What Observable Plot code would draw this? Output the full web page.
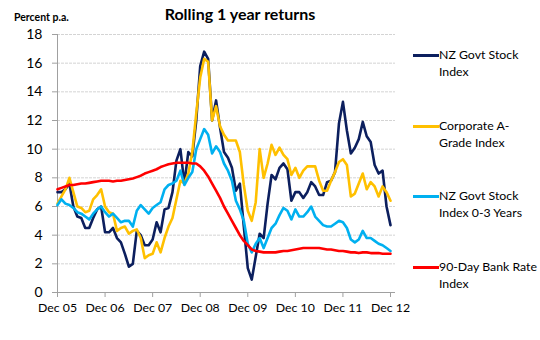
<!DOCTYPE html>
<html><head><meta charset="utf-8">
<script src="https://cdn.jsdelivr.net/npm/d3@7"></script>
<script src="https://cdn.jsdelivr.net/npm/@observablehq/plot@0.6"></script>
<style>
body{margin:0;background:#fff;font-family:Lato,"Open Sans",sans-serif;}
#wrap{position:relative;width:540px;height:340px;overflow:hidden;background:#fff}
#wrap svg{position:absolute;left:0;top:0}
.t{position:absolute;white-space:nowrap;color:#000;line-height:17px}
.title{font-weight:bold;font-size:16px;left:0;width:480px;text-align:center;top:5px}
.unit{font-weight:bold;font-size:10.5px;left:14px;top:9px}
.leg{font-size:12.3px;left:439px}
.sw{position:absolute;left:413px;width:26px;height:3px}
</style></head><body><div id="wrap"></div>
<script>
const tickLabels = ["Dec 05","Dec 06","Dec 07","Dec 08","Dec 09","Dec 10","Dec 11","Dec 12"];
const yTicks = [0,2,4,6,8,10,12,14,16,18];
const names = ["NZ Govt Stock Index","Corporate A-Grade Index","NZ Govt Stock Index 0-3 Years","90-Day Bank Rate Index"];
const legendLines = [["NZ Govt Stock","Index"],["Corporate A-","Grade Index"],["NZ Govt Stock","Index 0-3 Years"],["90-Day Bank Rate","Index"]];
const colors = ["#0c1f5e","#ffc000","#00b0f0","#ff0000"];

// monthly values, Dec 05 .. Dec 12
const govt = [7.0,7.0,7.2,7.6,6.0,5.3,5.2,4.5,4.5,5.2,5.8,6.0,
  4.2,4.2,4.5,3.8,3.5,2.7,1.8,2.0,4.3,4.0,3.3,3.3,
  3.7,4.9,4.2,5.8,5.9,7.0,9.2,10.0,7.6,9.8,9.5,12.0,
  15.8,16.8,16.3,12.0,13.4,11.5,9.8,9.4,8.7,7.1,7.6,4.6,
  1.7,0.9,2.5,4.1,3.8,6.2,8.2,7.9,8.7,9.0,8.6,6.4,
  7.0,7.0,6.6,7.0,7.7,7.4,6.8,6.8,7.7,7.8,8.4,11.8,
  13.3,11.3,9.7,10.1,10.7,11.9,10.9,10.5,8.9,8.3,8.5,6.0,
  4.7];
const corp = [6.2,6.7,7.2,8.0,7.0,6.0,5.9,5.6,5.7,6.5,6.8,7.2,
  6.0,5.6,5.5,4.3,4.5,4.6,4.1,4.3,4.4,3.8,2.4,2.6,
  2.7,3.5,2.8,3.8,4.6,5.2,6.5,7.8,7.6,8.3,9.8,12.5,
  15.0,16.3,16.1,12.0,13.0,11.6,11.0,10.6,10.6,10.6,9.8,7.5,
  5.7,5.0,6.3,10.0,8.0,9.0,10.3,9.6,10.1,9.6,9.3,8.2,
  8.7,8.0,8.5,8.8,8.8,8.8,7.8,7.1,7.1,7.8,8.4,9.1,
  9.3,8.9,6.7,6.9,7.6,8.3,7.2,7.7,7.4,6.7,7.4,7.0,
  6.4];
const short = [6.1,6.5,6.2,6.1,5.9,5.6,5.5,5.3,5.1,5.5,5.8,6.0,
  5.6,5.3,5.5,5.2,4.9,5.0,5.0,4.6,5.7,6.1,5.8,5.5,
  5.9,6.1,6.3,7.2,7.5,7.6,7.8,8.5,7.5,8.0,8.4,10.0,
  10.7,11.4,11.0,9.7,10.2,9.8,9.0,8.5,7.8,6.4,5.8,5.0,
  3.4,2.8,3.4,3.8,3.1,3.8,4.5,4.8,5.4,5.9,5.7,5.1,
  5.8,5.3,5.3,5.6,6.0,5.3,5.0,4.7,4.6,4.6,4.8,5.0,
  4.9,4.5,3.7,3.5,3.7,4.3,3.8,3.8,3.6,3.4,3.3,3.1,
  2.9];
const bank = [7.2,7.3,7.4,7.5,7.5,7.55,7.6,7.6,7.65,7.7,7.75,7.8,
  7.8,7.8,7.75,7.8,7.8,7.85,7.9,7.95,8.05,8.15,8.3,8.4,
  8.5,8.6,8.75,8.85,8.95,9.0,9.05,9.05,9.05,9.05,9.0,9.0,
  8.8,8.5,8.1,7.6,7.1,6.6,6.0,5.5,5.0,4.5,4.0,3.6,
  3.3,3.0,2.9,2.85,2.8,2.8,2.8,2.8,2.85,2.9,2.9,2.95,
  3.0,3.05,3.1,3.1,3.1,3.1,3.1,3.05,3.0,3.0,2.95,2.9,
  2.9,2.85,2.8,2.8,2.75,2.8,2.8,2.75,2.75,2.75,2.7,2.7,
  2.7];

const seriesValues = [govt, corp, short, bank];
const data = seriesValues.flatMap((vals, s) => vals.map((v, i) => ({month: i, value: v, name: names[s]})));
const tickMonths = tickLabels.map((_, i) => i * 12);

const plot = Plot.plot({
  width: 540, height: 340,
  marginLeft: 57, marginRight: 145, marginTop: 34, marginBottom: 48,
  style: {fontFamily: "Lato, 'Open Sans', sans-serif", color: "#000", background: "transparent"},
  x: {domain: [0, 85.26]},
  y: {domain: [0, 18]},
  color: {domain: names, range: colors},
  marks: [
    Plot.gridY(yTicks.filter(d => d > 0), {stroke: "#d4d4d4", strokeOpacity: 1, strokeWidth: 1, strokeDasharray: "3,1"}),
    Plot.ruleX([0], {stroke: "#a0a0a0"}),
    Plot.ruleY([0], {stroke: "#a0a0a0"}),
    Plot.axisY({ticks: yTicks, tickSize: 5, tickPadding: 10, fontSize: 14, stroke: "#a0a0a0", label: null}),
    Plot.axisX({ticks: tickMonths, tickFormat: (d, i) => tickLabels[i], tickSize: 5, tickPadding: 6, fontSize: 12.3, stroke: "#a0a0a0", label: null}),
    Plot.line(data, {x: "month", y: "value", z: "name", stroke: "name", strokeWidth: 2.6, strokeLinejoin: "round"})
  ]
});
const wrap = document.getElementById("wrap");
wrap.appendChild(plot);

function addText(cls, txt, top) {
  const d = document.createElement("div");
  d.className = "t " + cls;
  d.textContent = txt;
  if (top !== undefined) d.style.top = top + "px";
  wrap.appendChild(d);
  return d;
}
addText("title", "Rolling 1 year returns");
addText("unit", "Percent p.a.");
const legTops = [46, 117, 187, 258];
legendLines.forEach((lines, k) => {
  const sw = document.createElement("div");
  sw.className = "sw";
  sw.style.background = colors[k];
  sw.style.top = (legTops[k] + 8) + "px";
  wrap.appendChild(sw);
  lines.forEach((ln, j) => addText("leg", ln, legTops[k] + j * 17));
});
</script>
</body></html>
